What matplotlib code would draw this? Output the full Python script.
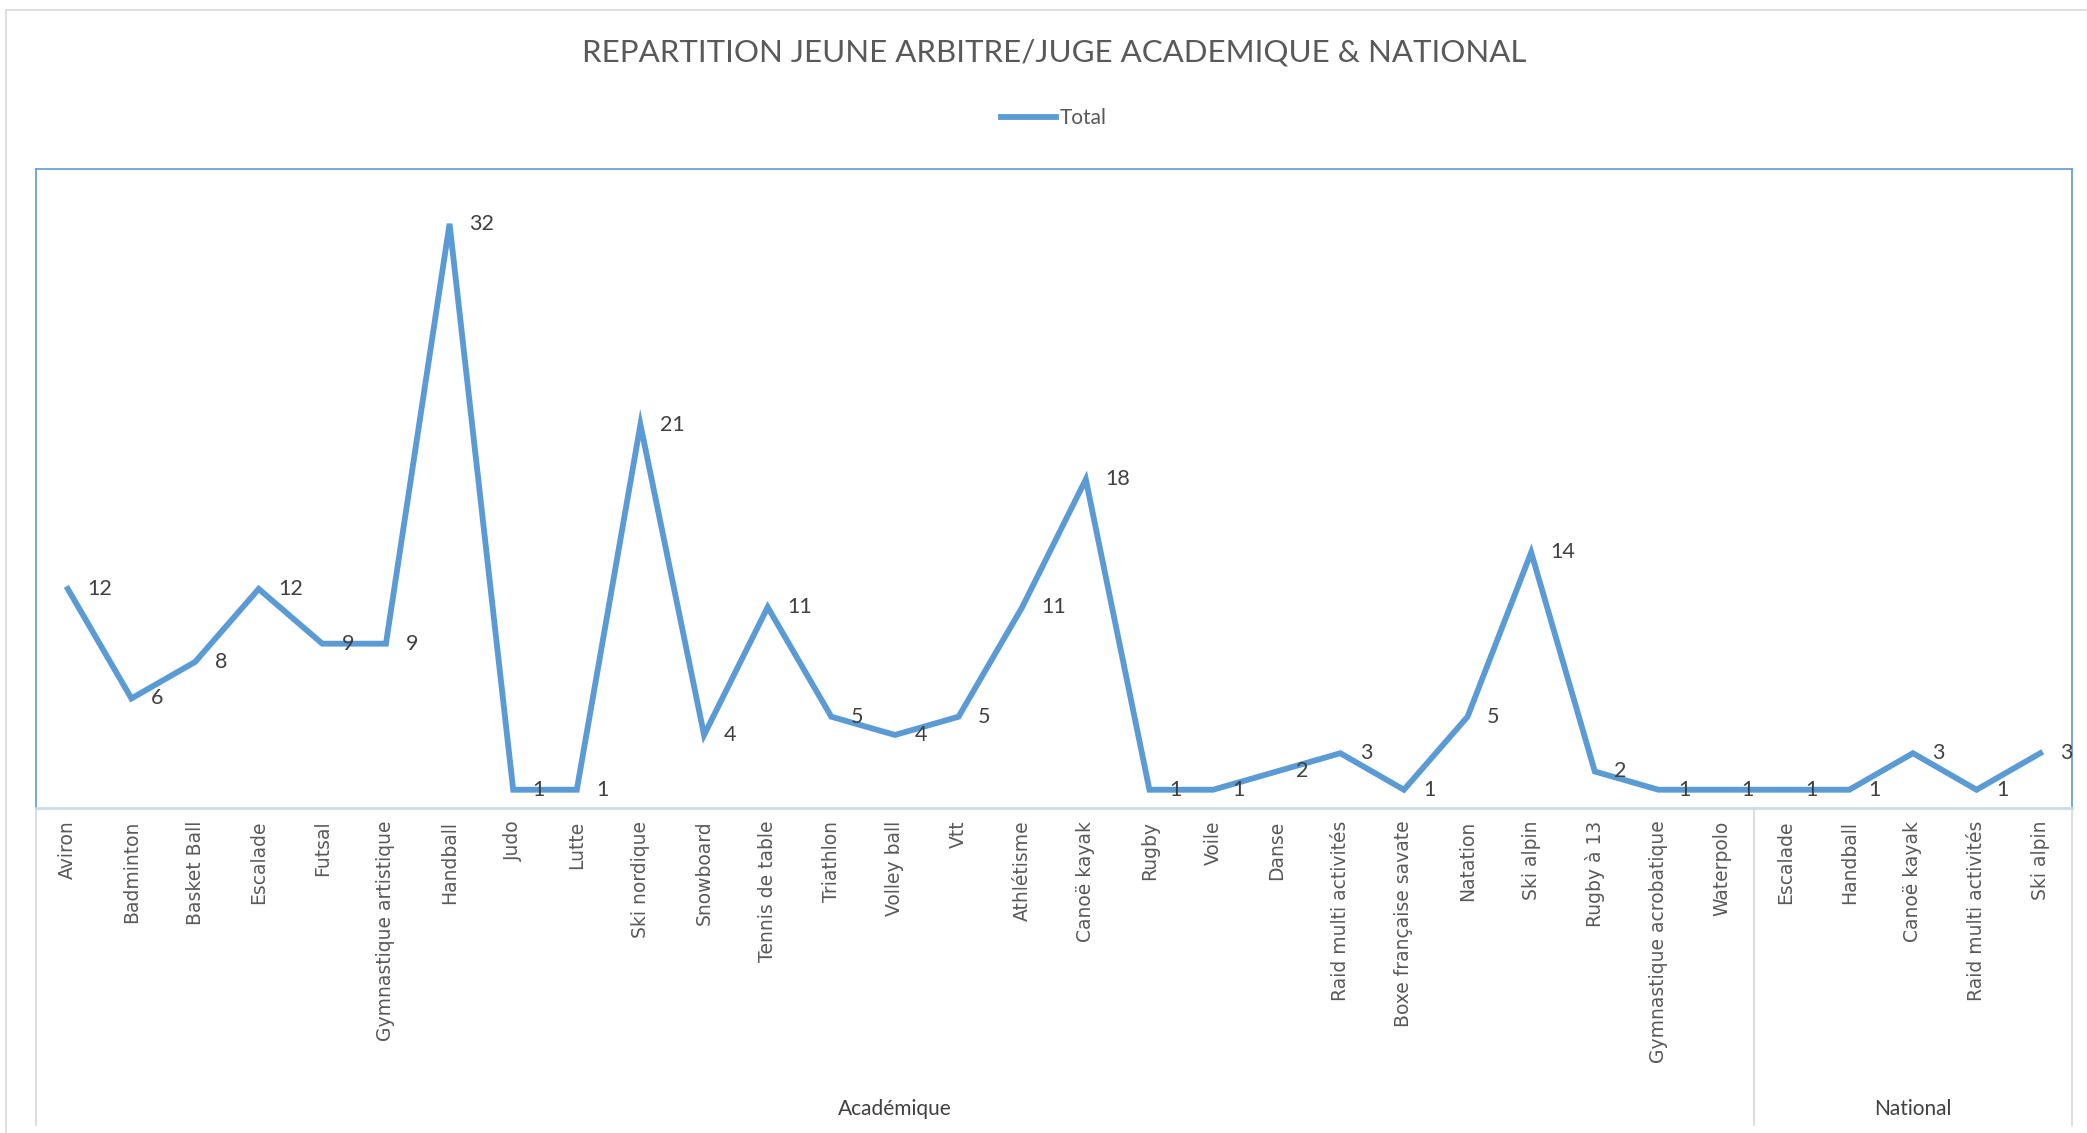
import numpy as np
import matplotlib.pyplot as plt
from matplotlib.lines import Line2D
from matplotlib.patches import Rectangle

# données
sports_acad = ["Aviron", "Badminton", "Basket Ball", "Escalade", "Futsal",
               "Gymnastique artistique", "Handball", "Judo", "Lutte", "Ski nordique",
               "Snowboard", "Tennis de table", "Triathlon", "Volley ball", "Vtt",
               "Athlétisme", "Canoë kayak", "Rugby", "Voile", "Danse",
               "Raid multi activités", "Boxe française savate", "Natation", "Ski alpin",
               "Rugby à 13", "Gymnastique acrobatique", "Waterpolo"]
totaux_acad = [12, 6, 8, 12, 9, 9, 32, 1, 1, 21, 4, 11, 5, 4, 5, 11, 18, 1, 1, 2,
               3, 1, 5, 14, 2, 1, 1]
sports_nat = ["Escalade", "Handball", "Canoë kayak", "Raid multi activités", "Ski alpin"]
totaux_nat = [1, 1, 3, 1, 3]
groupes = ["Académique", "National"]

labels = sports_acad + sports_nat
values = totaux_acad + totaux_nat
n = len(labels)
x = np.arange(n) + 0.5

W, H = 2087, 1133
fig = plt.figure(figsize=(W / 100, H / 100), dpi=100)
fig.patches.append(Rectangle((6 / W, -0.1), 1.2, 1 - 10 / H + 0.1, transform=fig.transFigure,
                             fill=False, edgecolor="#D9D9D9", lw=1.2))

L, R, T, B = 36, 2072, 169, 808
ax = fig.add_axes([L / W, 1 - B / H, (R - L) / W, (B - T) / H])

blue = "#5B9BD5"
ax.plot(x, values, color=blue, lw=4.2, solid_joinstyle="miter", label="Total")
for xi, v in zip(x, values):
    ax.annotate(str(v), (xi, v), xytext=(14, 0), textcoords="offset points",
                ha="left", va="center", fontsize=15.5, color="#404040", family="Lato")

ax.set_xlim(0, n)
ax.set_ylim(0, 35)
ax.set_yticks([])
ax.set_xticks(x, labels, rotation=90, fontsize=13.5, color="#595959", family="DejaVu Sans")
ax.tick_params(axis="x", length=0, pad=9)
for s in ["top", "left", "right"]:
    ax.spines[s].set_color(blue)
    ax.spines[s].set_linewidth(1.2)
ax.spines["bottom"].set_color("#C9DAEA")
ax.spines["bottom"].set_linewidth(2)

# séparateurs des groupes
ylow = -(1125 - B) / (B - T)
for xs in [0, len(sports_acad), n]:
    ax.plot([xs, xs], [0, ylow], color="#D9D9D9", lw=1.3, clip_on=False,
            transform=ax.get_xaxis_transform())
ygrp = -(1109 - B) / (B - T)
ax.text(len(sports_acad) / 2, ygrp, groupes[0], transform=ax.get_xaxis_transform(),
        ha="center", va="center", fontsize=15, color="#404040", family="Lato")
ax.text(len(sports_acad) + len(sports_nat) / 2, ygrp, groupes[1],
        transform=ax.get_xaxis_transform(), ha="center", va="center", fontsize=15,
        color="#404040", family="Lato")

cx = (L + R) / 2 / W
fig.text(cx, 1 - 53 / H, "REPARTITION JEUNE ARBITRE/JUGE ACADEMIQUE & NATIONAL",
         ha="center", va="center", fontsize=22.5, color="#595959", family="Lato")
fig.legend(handles=[Line2D([], [], color=blue, lw=4.2)], labels=["Total"],
           loc="center", bbox_to_anchor=(cx, 1 - 118 / H), frameon=False,
           prop={"family": "Lato", "size": 15}, labelcolor="#595959",
           handlelength=2.6, handletextpad=0.2)

fig.savefig("out.png", dpi=100)
